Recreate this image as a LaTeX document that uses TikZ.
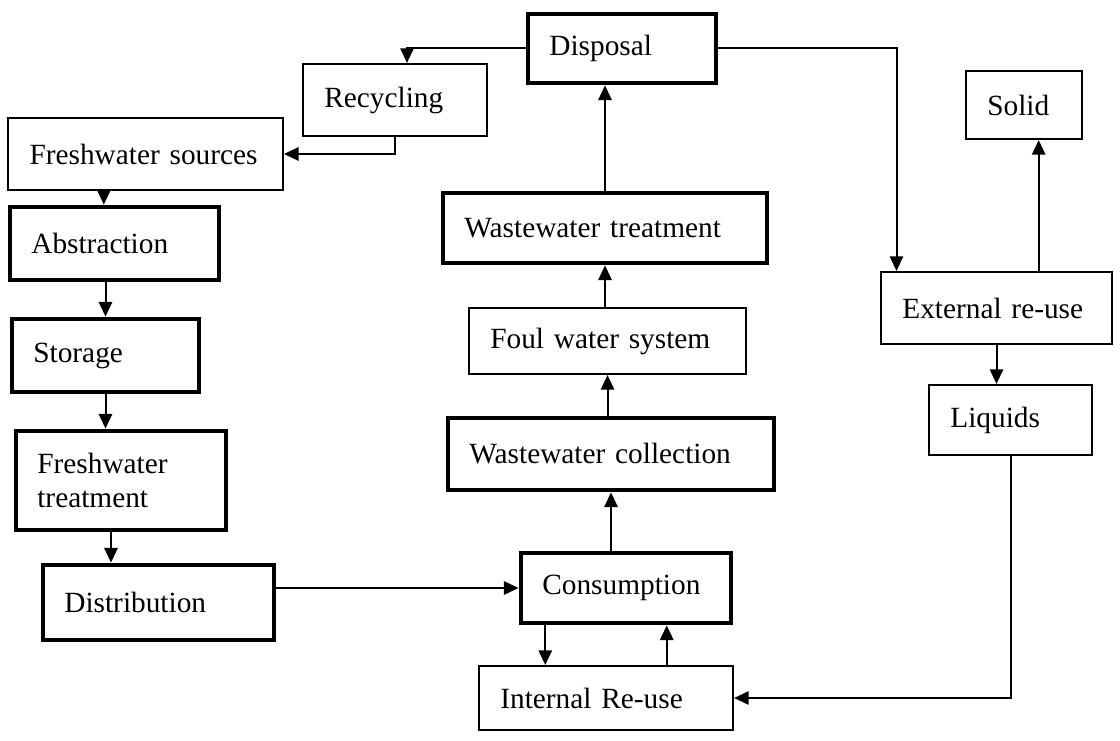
\documentclass[tikz,border=0pt]{standalone}
\usepackage{fontspec}
\setmainfont{Liberation Serif}
\usetikzlibrary{arrows.meta}

\tikzset{
  stage/.style={draw, rectangle, line width=1.6pt, align=left, inner xsep=16pt, inner ysep=0pt,
    font=\fontsize{22}{25}\selectfont},
  keystage/.style={stage, line width=3.6pt},
  flow/.style={-{Triangle[length=11pt,width=10pt]}, line width=1.5pt},
}

\begin{document}
\begin{tikzpicture}[x=0.75pt, y=-0.75pt]
            \useasboundingbox (0,0) rectangle (1120,741);
            % --- 淡水供给链 ---
            \draw (145.5,154) node[stage, text width=174pt, minimum height=54pt] (fsrc) {Freshwater sources};
            \draw (114.5,243.5) node[keystage, text width=124.75pt, minimum height=54.75pt] (abstr) {Abstraction};
            \draw (105.5,355.5) node[keystage, text width=108.25pt, minimum height=54.75pt] (stor) {Storage};
            \draw (121,480.5) node[keystage, text width=125.5pt, minimum height=74.25pt] (fwtreat) {Freshwater\\treatment};
            \draw (158.5,602.5) node[keystage, text width=141.25pt, minimum height=56.25pt] (distr) {Distribution};
            \draw (395,100) node[stage, text width=106pt, minimum height=54pt] (recyc) {Recycling};

            % --- 用水与污水链 ---
            \draw (626,588) node[keystage, text width=125.5pt, minimum height=52.5pt] (consum) {Consumption};
            \draw (606,698) node[stage, text width=158.5pt, minimum height=48pt] (intreuse) {Internal Re-use};
            \draw (611,454) node[keystage, text width=212.5pt, minimum height=54pt] (wwcoll) {Wastewater collection};
            \draw (607.5,341) node[stage, text width=175.75pt, minimum height=49.5pt] (foul) {Foul water system};
            \draw (605,228) node[keystage, text width=211pt, minimum height=52.5pt] (wwtreat) {Wastewater treatment};
            \draw (622,48.5) node[keystage, text width=109pt, minimum height=51.75pt] (disp) {Disposal};

            % --- 外部回用 ---
            \draw (996.5,308) node[stage, text width=141.25pt, minimum height=54pt] (extreuse) {External re-use};
            \draw (1024,105) node[stage, text width=55pt, minimum height=51pt] (solid) {Solid};
            \draw (1010.5,420) node[stage, text width=90.25pt, minimum height=52.5pt] (liquids) {Liquids};

            % --- 连线 ---
            \draw[flow] ([xshift=-8pt]abstr.north |- fsrc.south) -- ([xshift=-8pt]abstr.north);
            \draw[flow] (stor.north |- abstr.south) -- (stor.north);
            \draw[flow] (stor.south) -- (stor.south |- fwtreat.north);
            \draw[flow] ([xshift=-7.5pt]fwtreat.south) -- ([xshift=-7.5pt]fwtreat.south |- distr.north);
            \draw[flow] (distr.east |- consum.west) -- (consum.west);
            \draw[flow] (wwcoll.south |- consum.north) -- (wwcoll.south);
            \draw[flow] (foul.south |- wwcoll.north) -- (foul.south);
            \draw[flow] (wwtreat.south |- foul.north) -- (wwtreat.south);
            \draw[flow] (wwtreat.north) -- (wwtreat.north |- disp.south);
            \draw[flow] (disp.west) -| ([xshift=9pt]recyc.north);
            \draw[flow] (recyc.south) |- (fsrc.east);
            \draw[flow] (disp.east) -| ([xshift=-75pt]extreuse.north);
            \draw[flow] ([xshift=11pt]solid.south |- extreuse.north) -- ([xshift=11pt]solid.south);
            \draw[flow] (extreuse.south) -- (extreuse.south |- liquids.north);
            \draw[flow] (liquids.south) |- (intreuse.east);
            \draw[flow] ([xshift=20pt]consum.south west) -- ([xshift=20pt]consum.south west |- intreuse.north);
            \draw[flow] ([xshift=-50pt]consum.south east |- intreuse.north) -- ([xshift=-50pt]consum.south east);
        \end{tikzpicture}
\end{document}
